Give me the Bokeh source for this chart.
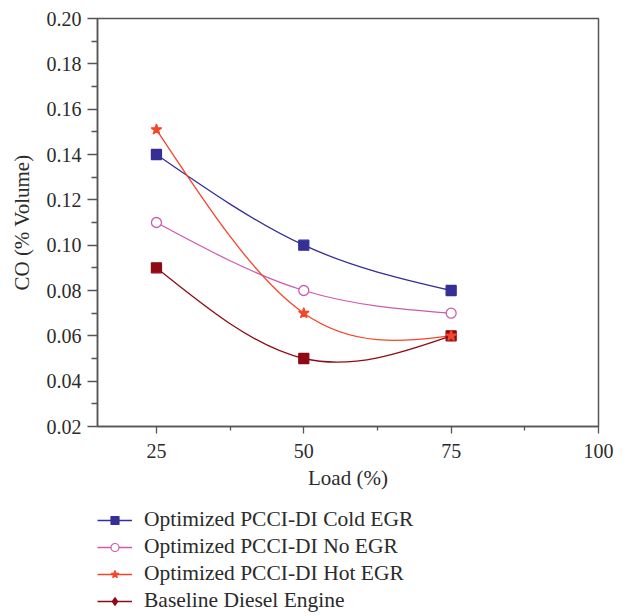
import numpy as np
from bokeh.plotting import figure
from bokeh.layouts import column
from bokeh.models import (ColumnDataSource, FixedTicker, PrintfTickFormatter,
                          Legend, LegendItem, Range1d)
from bokeh.embed import file_html
from bokeh.resources import INLINE

# ---- data ----
load = [25, 50, 75]
cold_egr = [0.14, 0.10, 0.08]
no_egr = [0.11, 0.08, 0.07]
hot_egr = [0.151, 0.07, 0.06]
baseline = [0.09, 0.05, 0.06]

series_names = ["Optimized PCCI-DI Cold EGR", "Optimized PCCI-DI No EGR",
                "Optimized PCCI-DI Hot EGR", "Baseline Diesel Engine"]
y_ticks = [0.02, 0.04, 0.06, 0.08, 0.10, 0.12, 0.14, 0.16, 0.18, 0.20]
y_minor = [0.03, 0.05, 0.07, 0.09, 0.11, 0.13, 0.15, 0.17, 0.19]
x_ticks = [25, 50, 75, 100]
x_minor = [37.5, 62.5, 87.5]

FONT = "Liberation Serif"

colors = ["#352F96", "#CC5CB0", "#F4462A", "#8E0B16"]
plot_markers = ["square", "circle", "star", "square"]
legend_markers = ["square", "circle", "star", "diamond"]
fills = ["#352F96", "white", "#F4462A", "#8E0B16"]
marker_draw_order = [0, 1, 3, 2]


def spline_beziers(x, y):
    """Natural cubic spline through the points, expressed as cubic Bezier segments."""
    x = np.asarray(x, float)
    y = np.asarray(y, float)
    n = len(x)
    h = np.diff(x)
    A = np.zeros((n, n))
    b = np.zeros(n)
    A[0, 0] = 1
    A[-1, -1] = 1
    for i in range(1, n - 1):
        A[i, i - 1] = h[i - 1]
        A[i, i] = 2 * (h[i - 1] + h[i])
        A[i, i + 1] = h[i]
        b[i] = 6 * ((y[i + 1] - y[i]) / h[i] - (y[i] - y[i - 1]) / h[i - 1])
    M = np.linalg.solve(A, b)
    segs = dict(x0=[], y0=[], x1=[], y1=[], cx0=[], cy0=[], cx1=[], cy1=[])
    for i in range(n - 1):
        hi = h[i]
        s = (y[i + 1] - y[i]) / hi
        d0 = s - hi * (2 * M[i] + M[i + 1]) / 6
        d1 = s + hi * (M[i] + 2 * M[i + 1]) / 6
        segs["x0"].append(x[i]); segs["y0"].append(y[i])
        segs["x1"].append(x[i + 1]); segs["y1"].append(y[i + 1])
        segs["cx0"].append(x[i] + hi / 3); segs["cy0"].append(y[i] + hi / 3 * d0)
        segs["cx1"].append(x[i + 1] - hi / 3); segs["cy1"].append(y[i + 1] - hi / 3 * d1)
    return segs


p = figure(frame_width=501, frame_height=408, output_backend="svg",
           toolbar_location=None, x_range=Range1d(15, 100),
           y_range=Range1d(0.02, 0.20), min_border_left=97, min_border_top=18,
           min_border_right=20, min_border_bottom=74)
p.xgrid.visible = False
p.ygrid.visible = False
p.outline_line_color = "#555555"
p.outline_line_width = 1.5
p.background_fill_color = "white"
p.border_fill_color = "white"

# legend figure (below the chart); its ranges exclude the data so only the legend shows
lf = figure(width=618, height=114, output_backend="svg", toolbar_location=None,
            x_axis_type=None, y_axis_type=None, min_border=0,
            x_range=Range1d(0, 1), y_range=Range1d(0, 1))
lf.xgrid.visible = False
lf.ygrid.visible = False
lf.outline_line_color = None

all_series = [cold_egr, no_egr, hot_egr, baseline]

# curves
for vals, col in zip(all_series, colors):
    segs = spline_beziers(load, vals)
    p.bezier(source=ColumnDataSource(segs), x0="x0", y0="y0", x1="x1", y1="y1",
             cx0="cx0", cy0="cy0", cx1="cx1", cy1="cy1",
             line_color=col, line_width=1.3)

# markers (hot EGR star drawn last, on top)
for i in marker_draw_order:
    size = 11 if plot_markers[i] == "star" else 10
    p.scatter(load, all_series[i], marker=plot_markers[i], size=size,
              line_color=colors[i], fill_color=fills[i], line_width=1.3)

items = []
for name, vals, col, lm, fc in zip(series_names, all_series, colors,
                                   legend_markers, fills):
    lr = lf.line(load, vals, line_color=col, line_width=1.3)
    sr = lf.scatter(load, vals, marker=lm, size=8, line_color=col,
                    fill_color=fc, line_width=1.2)
    items.append(LegendItem(label=name, renderers=[lr, sr]))

# axes
for ax in (p.xaxis[0], p.yaxis[0]):
    ax.axis_line_color = "#555555"
    ax.axis_line_width = 1.5
    ax.major_tick_line_color = "#555555"
    ax.minor_tick_line_color = "#555555"
    ax.major_tick_line_width = 1.3
    ax.minor_tick_line_width = 1.3
    ax.major_tick_in = 0
    ax.minor_tick_in = 0
    ax.major_label_text_font = FONT
    ax.major_label_text_color = "#2b2b2b"
    ax.major_label_text_font_size = "20px"
    ax.axis_label_text_font = FONT
    ax.axis_label_text_font_style = "normal"
    ax.axis_label_text_color = "#2b2b2b"
    ax.axis_label_text_font_size = "21px"

p.yaxis[0].ticker = FixedTicker(ticks=y_ticks, minor_ticks=y_minor)
p.yaxis[0].formatter = PrintfTickFormatter(format="%.2f")
p.yaxis[0].major_tick_out = 10
p.yaxis[0].minor_tick_out = 6
p.yaxis[0].major_label_standoff = 6
p.yaxis[0].axis_label = "CO (% Volume)"
p.yaxis[0].axis_label_standoff = 10

p.xaxis[0].ticker = FixedTicker(ticks=x_ticks, minor_ticks=x_minor)
p.xaxis[0].major_tick_out = 7
p.xaxis[0].minor_tick_out = 4
p.xaxis[0].major_label_standoff = 10
p.xaxis[0].axis_label = "Load (%)"
p.xaxis[0].axis_label_standoff = 5

legend = Legend(items=items, location=(0, 1), orientation="vertical",
                label_text_font=FONT, label_text_font_size="21.5px",
                label_text_color="#2b2b2b", glyph_width=35, glyph_height=20,
                label_height=20, spacing=2, label_standoff=12, padding=0,
                margin=0, border_line_color=None, background_fill_alpha=0)
lf.add_layout(legend, "center")

layout = column(p, lf, spacing=0)
open("out.html", "w").write(file_html(layout, INLINE))
